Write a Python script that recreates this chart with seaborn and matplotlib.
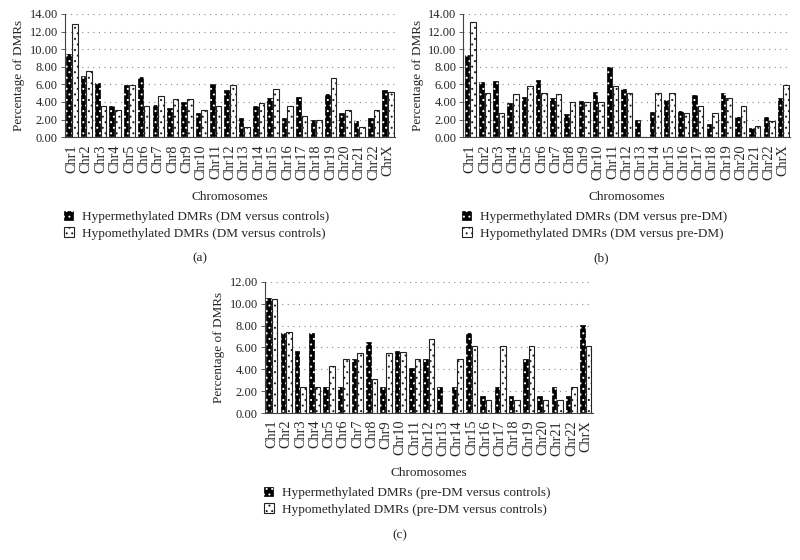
import matplotlib
matplotlib.use("Agg")
import matplotlib.pyplot as plt
from matplotlib.patches import Patch
import seaborn as sns
import pandas as pd

chromosomes = ["Chr1", "Chr2", "Chr3", "Chr4", "Chr5", "Chr6", "Chr7", "Chr8", "Chr9", "Chr10",
               "Chr11", "Chr12", "Chr13", "Chr14", "Chr15", "Chr16", "Chr17", "Chr18", "Chr19",
               "Chr20", "Chr21", "Chr22", "ChrX"]

hyper_a = [9.4, 7.0, 6.2, 3.5, 5.9, 6.8, 3.7, 3.3, 4.0, 2.7, 6.1, 5.4, 2.2, 3.5, 4.4, 2.2, 4.6, 1.9, 4.9, 2.7, 1.8, 2.2, 5.4]
hypo_a = [12.9, 7.5, 3.5, 3.1, 5.9, 3.5, 4.7, 4.3, 4.3, 3.1, 3.5, 5.9, 1.2, 3.9, 5.5, 3.5, 2.4, 1.9, 6.7, 3.1, 1.2, 3.1, 5.1]

hyper_b = [9.3, 6.3, 6.4, 3.9, 4.6, 6.5, 4.4, 2.6, 4.1, 5.1, 8.0, 5.5, 1.9, 2.9, 4.2, 3.0, 4.8, 1.5, 5.0, 2.3, 1.0, 2.3, 4.5]
hypo_b = [13.1, 5.0, 2.7, 4.9, 5.8, 5.0, 4.9, 4.0, 4.0, 4.0, 5.8, 5.0, 0.0, 5.0, 5.0, 2.7, 3.6, 2.7, 4.5, 3.6, 1.3, 1.8, 5.9]

hyper_c = [10.5, 7.3, 5.7, 7.3, 2.4, 2.4, 4.9, 6.5, 2.4, 5.7, 4.1, 4.9, 2.4, 2.4, 7.3, 1.6, 2.4, 1.6, 4.9, 1.6, 2.4, 1.6, 8.1]
hypo_c = [10.4, 7.4, 2.4, 2.4, 4.3, 4.9, 5.5, 3.1, 5.5, 5.6, 4.9, 6.8, 0.0, 4.9, 6.1, 1.2, 6.1, 1.2, 6.1, 1.2, 1.2, 2.4, 6.1]

legend_a = ["Hypermethylated DMRs (DM versus controls)", "Hypomethylated DMRs (DM versus controls)"]
legend_b = ["Hypermethylated DMRs (DM versus pre-DM)", "Hypomethylated DMRs (DM versus pre-DM)"]
legend_c = ["Hypermethylated DMRs (pre-DM versus controls)", "Hypomethylated DMRs (pre-DM versus controls)"]

yticks_ab = [0, 2, 4, 6, 8, 10, 12, 14]
yticks_c = [0, 2, 4, 6, 8, 10, 12]

sns.set_theme(style="white")
plt.rcParams["font.family"] = ["Liberation Serif", "DejaVu Serif"]
plt.rcParams["hatch.linewidth"] = 0.7

fig = plt.figure(figsize=(8, 5.6), dpi=100)

HATCH = "..."
HYPER_KW = dict(facecolor="black", edgecolor="white", hatch=HATCH)
HYPO_KW = dict(facecolor="white", edgecolor="#222222", hatch=HATCH)


def panel(rect, hyper, hypo, labels, yticks, letter, letter_xy, leg_y):
    ax = fig.add_axes(rect)
    df = pd.DataFrame({
        "Chromosome": chromosomes * 2,
        "Value": list(hyper) + list(hypo),
        "Type": [labels[0]] * len(chromosomes) + [labels[1]] * len(chromosomes),
    })
    sns.barplot(data=df, x="Chromosome", y="Value", hue="Type", order=chromosomes,
                hue_order=labels, width=0.78, dodge=True, legend=False, ax=ax,
                errorbar=None)
    for bar in ax.containers[0]:
        bar.set_facecolor("black")
        bar.set_edgecolor("white")
        bar.set_hatch(HATCH)
        bar.set_linewidth(0.2)
    for bar in ax.containers[1]:
        bar.set_facecolor("white")
        bar.set_edgecolor("#222222")
        bar.set_hatch(HATCH)
        bar.set_linewidth(0.8)
    ax.set_xlim(-0.5, len(chromosomes) - 0.5)
    ax.set_ylim(0, yticks[-1])
    ax.set_yticks(yticks)
    ax.set_yticklabels([f"{v:.2f}" for v in yticks], fontsize=9)
    ax.set_xticks(range(len(chromosomes)))
    ax.set_xticklabels(chromosomes, rotation=90, fontsize=10.3)
    ax.set_xticks([i + 0.5 for i in range(-1, len(chromosomes))], minor=True)
    ax.tick_params(axis="x", which="major", length=0, pad=5)
    ax.tick_params(axis="x", which="minor", length=3, width=0.6, color="#444444", direction="out")
    ax.tick_params(axis="y", which="major", length=3, width=0.6, color="#444444", direction="out", pad=2, left=True)
    ax.set_xlabel("Chromosomes", fontsize=9.5, labelpad=8)
    ax.set_ylabel("Percentage of DMRs", fontsize=9.5, labelpad=3)
    ax.grid(False)
    for v in yticks[1:]:
        ax.axhline(v, color="#888888", linestyle=(0, (1, 4)), linewidth=0.8, zorder=0)
    for s in ["top", "right"]:
        ax.spines[s].set_visible(False)
    for s in ["left", "bottom"]:
        ax.spines[s].set_color("#444444")
        ax.spines[s].set_linewidth(0.8)
    handles = [Patch(**HYPER_KW, linewidth=0.2, label=labels[0]),
               Patch(**HYPO_KW, linewidth=0.8, label=labels[1])]
    fig.legend(handles=handles, loc="upper left", bbox_to_anchor=(rect[0] - 0.001, leg_y),
               frameon=False, fontsize=9.5, handlelength=0.75, handleheight=0.75,
               handletextpad=0.6, labelspacing=0.3, borderaxespad=0, borderpad=0)
    fig.text(letter_xy[0], letter_xy[1], letter, fontsize=9.5, ha="center", va="center")
    return ax


panel([0.081, 0.755, 0.413, 0.22], hyper_a, hypo_a, legend_a, yticks_ab, "(a)", (0.25, 1 - 258 / 560), 1 - 211 / 560)
panel([0.579, 0.755, 0.409, 0.22], hyper_b, hypo_b, legend_b, yticks_ab, "(b)", (0.752, 1 - 258 / 560), 1 - 211 / 560)
panel([0.331, 0.2625, 0.41, 0.234], hyper_c, hypo_c, legend_c, yticks_c, "(c)", (0.5, 1 - 535 / 560), 1 - 487 / 560)

fig.savefig("out.png", dpi=100, facecolor="white")
